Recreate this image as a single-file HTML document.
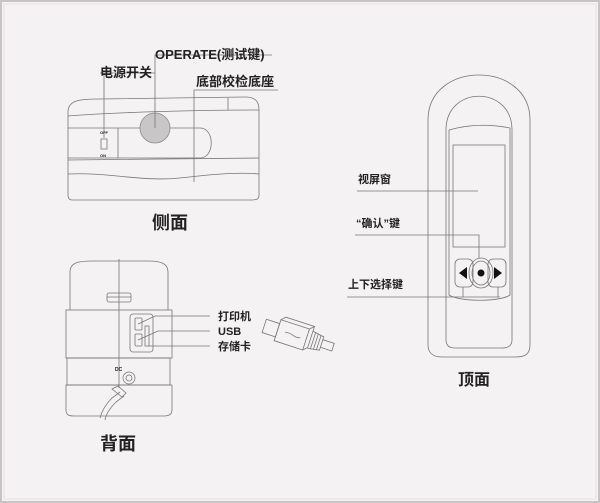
<!DOCTYPE html>
<html><head><meta charset="utf-8"><style>
html,body{margin:0;padding:0;background:#f4f2f2;}
svg{display:block;}
text{font-family:"Liberation Sans","Noto Sans CJK SC",sans-serif;font-weight:bold;fill:#222;}
</style></head><body>
<svg width="600" height="503" viewBox="0 0 600 503" xmlns="http://www.w3.org/2000/svg">
<rect x="0" y="0" width="600" height="503" fill="#f4f2f2"/>
<rect x="1" y="1" width="598" height="501" fill="none" stroke="#c8c4c6" stroke-width="2"/>
<rect x="4" y="4" width="592" height="495" fill="none" stroke="#e6e3e4" stroke-width="1"/>
<g fill="none" stroke="#777" stroke-width="0.8">
<!-- side view -->
<path d="M68,112 C68,100 80,99 100,99 L245,97 C256,97 259,102 259,110 L259,196 C259,199 256,200 252,200 L72,200 C69,200 68,198 68,195 Z"/>
<path d="M68,116 C120,112 200,110 259,110"/>
<line x1="228" y1="98" x2="228" y2="110"/>
<path d="M68,128 L200,128 C215,128 215,158 200,158 L68,158"/>
<line x1="118" y1="128" x2="118" y2="158"/>
<path d="M68,160 L259,158 M68,174 C110,172 140,182 180,178 C215,174 240,172 259,174"/>
<circle cx="155" cy="128" r="15" fill="#c8c6c6" stroke="#888"/>
<rect x="101" y="139" width="6" height="10"/>
<polyline points="155,128 155,55 272,55"/>
<polyline points="104,138 104,73 100,73 155,73"/>
<polyline points="194,182 194,90 278,90"/>
<!-- back view -->
<path d="M70,310 L70,272 C70,262 80,261 92,261 L148,261 C160,261 168,263 168,272 L168,310"/>
<rect x="66" y="310" width="106" height="48"/>
<rect x="67" y="358" width="103" height="27"/>
<path d="M66,385 L172,385 L172,410 C172,415 168,416 164,416 L74,416 C69,416 66,415 66,410 Z"/>
<line x1="119" y1="259" x2="119" y2="388"/>
<rect x="107" y="293" width="24" height="9" rx="2"/>
<line x1="107" y1="297" x2="131" y2="297"/>
<rect x="130" y="314" width="23" height="38" rx="3"/>
<rect x="135" y="318" width="7" height="12" rx="1"/>
<rect x="135" y="334" width="7" height="12" rx="1"/>
<rect x="145" y="326" width="4" height="20"/>
<polyline points="138,324 155,316 210,316"/>
<polyline points="138,340 158,331 210,331"/>
<line x1="148" y1="346" x2="210" y2="346"/>
<circle cx="129" cy="378" r="6"/><circle cx="129" cy="378" r="3"/>
<path d="M120,392 L112,398 C106,404 102,410 100,418 M124,396 L116,402 C110,408 106,414 105,420 M112,389 L122,397 L126,393 L118,386 Z"/>
<!-- usb plug -->
<g transform="rotate(18 295 338)">
<rect x="262" y="329" width="14" height="14"/>
<rect x="276" y="325" width="30" height="22"/>
<path d="M276,325 L280,321 L310,321 L306,325 M306,347 L310,343 L310,321"/>
<path d="M310,326 L322,328 L322,342 L310,344 M313,326 L313,344 M316,327 L316,343 M319,327 L319,343"/>
<path d="M322,331 L334,331 L334,339 L322,339"/>
<path d="M284,336 C290,333 294,339 300,336"/>
</g>
<!-- top view -->
<path d="M428,120 C428,60 530,60 530,120 L530,345 C530,355 524,357 515,357 L442,357 C432,357 428,352 428,345 Z"/>
<path d="M446,130 C446,85 512,85 512,130 L512,340 C512,346 508,348 502,348 L455,348 C449,348 446,345 446,340 Z"/>
<path d="M449,130 C470,124 490,124 510,128 L510,295 C500,302 460,302 449,295 Z"/>
<rect x="453" y="145" width="52" height="102"/>
<rect x="455" y="259" width="18" height="28" rx="5"/>
<rect x="488" y="259" width="18" height="28" rx="5"/>
<ellipse cx="481" cy="273" rx="12" ry="15"/>
<ellipse cx="481" cy="273" rx="9" ry="12"/>
<line x1="357" y1="191" x2="478" y2="191"/>
<polyline points="355,235 479,235 479,258"/>
<polyline points="347,297 500,297"/>
<line x1="463" y1="287" x2="463" y2="297"/><line x1="498" y1="287" x2="498" y2="297"/>
</g>
<circle cx="481" cy="273" r="3.5" fill="#111"/>
<path d="M459,273 L467,267 L467,279 Z" fill="#111"/>
<path d="M502,273 L494,267 L494,279 Z" fill="#111"/>
<text x="155" y="59" font-size="13">OPERATE(测试键)</text>
<text x="100" y="77" font-size="13">电源开关</text>
<text x="196" y="86" font-size="13">底部校检底座</text>
<text x="100" y="134" font-size="4" font-weight="normal">OFF</text>
<text x="100" y="157" font-size="4" font-weight="normal">ON</text>
<text x="152" y="229" font-size="18">侧面</text>
<text x="218" y="320" font-size="11">打印机</text>
<text x="218" y="335" font-size="11">USB</text>
<text x="218" y="350" font-size="11">存储卡</text>
<text x="115" y="371" font-size="5">DC</text>
<text x="100" y="450" font-size="18">背面</text>
<text x="358" y="183" font-size="11">视屏窗</text>
<text x="356" y="227" font-size="11">“确认”键</text>
<text x="348" y="288" font-size="11">上下选择键</text>
<text x="458" y="385" font-size="16">顶面</text>
</svg>
</body></html>
